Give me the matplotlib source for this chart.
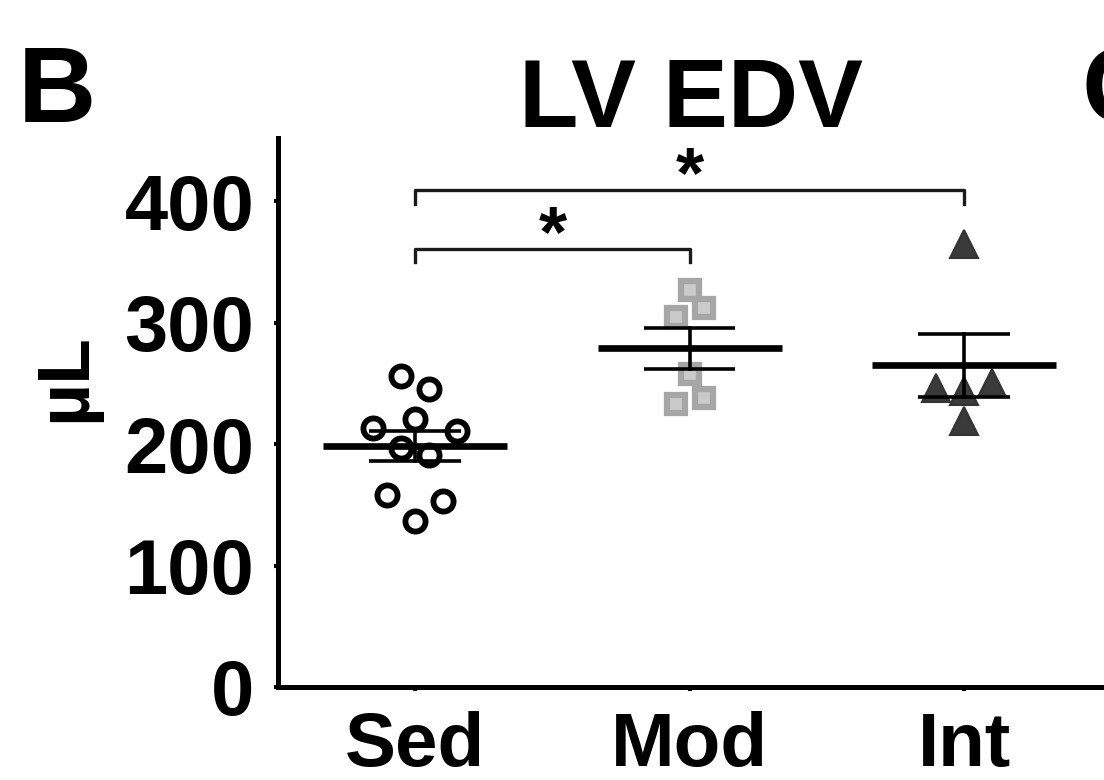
import numpy as np
import matplotlib
matplotlib.use("Agg")
import matplotlib.pyplot as plt

plt.rcParams["font.family"] = ["Liberation Sans", "DejaVu Sans"]
plt.rcParams["font.weight"] = "bold"

# ── Data (LV end-diastolic volume, uL) ─────────────────────────────────────
GROUPS = ["Sed", "Mod", "Int"]
SED = [256, 245, 221, 213, 211, 197, 191, 158, 153, 137]
MOD = [327, 305, 312, 258, 233, 238]
INT = [365, 246, 244, 250, 219]
Y_TICKS = [0, 100, 200, 300, 400]

# significance brackets: (group a, group b, bracket height, label)
SIG = [(0, 2, 409, "*"), (0, 1, 361, "*")]

# ── Styling ───────────────────────────────────────────────────────────────
STYLES = [
    dict(marker="o", ms=14.5, mfc="white", mec="black", mew=4.2),
    dict(marker="s", ms=13.5, mfc="#cacaca", mec="#a6a6a6", mew=4.5),
    dict(marker="^", ms=20, mfc="#3a3a3a", mec="#333333", mew=1.5),
]


def swarm_offsets(ax, vals, step_px=14, min_px=25, bin_w=20):
    """Prism-like spread: bin values, spread each bin symmetrically,
    widen a bin while it collides with points already placed below."""
    p0 = ax.transData.transform((0, 0))
    p1 = ax.transData.transform((1, 1))
    sx, sy = p1 - p0
    vals = np.asarray(vals, float)
    slots = np.zeros(len(vals))
    bins = np.floor(vals / bin_w).astype(int)
    placed = []
    for b in sorted(set(bins)):
        idx = np.where(bins == b)[0]
        n = len(idx)
        base = (np.arange(n) - (n - 1) / 2) * 2
        extra = 0
        while True:
            cand = base + np.sign(base) * extra
            ok = all(
                np.hypot(c * step_px - px, vals[i] * sy - py) >= min_px
                for c, i in zip(cand, idx) for px, py in placed
            )
            if ok or n == 1 or extra > 6:
                break
            extra += 1
        for c, i in zip(cand, idx):
            slots[i] = c
            placed.append((c * step_px, vals[i] * sy))
    return slots * step_px / sx


fig = plt.figure(figsize=(11.04, 7.8), dpi=100)
ax = fig.add_axes([278 / 1104, 1 - 687 / 780, 1 - 278 / 1104, 549 / 780])
ax.set_xlim(-0.5, 2.51)
ax.set_ylim(0, 452)

for i, (vals, st) in enumerate(zip([SED, MOD, INT], STYLES)):
    offs = swarm_offsets(ax, vals)
    ax.plot(i + offs, vals, ls="none", zorder=2, clip_on=False, **st)
    m = np.mean(vals)
    sem = np.std(vals, ddof=1) / np.sqrt(len(vals))
    ax.plot([i - 0.335, i + 0.335], [m, m], color="black", lw=4.8,
            solid_capstyle="butt", zorder=4)
    ax.plot([i, i], [m - sem, m + sem], color="black", lw=2.6, zorder=3)
    for yv in (m - sem, m + sem):
        ax.plot([i - 0.167, i + 0.167], [yv, yv], color="black", lw=2.6,
                solid_capstyle="butt", zorder=3)

for a, b, h, lab in SIG:
    ax.plot([a, a, b, b], [h - 11, h, h, h - 11], color="#1a1a1a", lw=2.4,
            zorder=3)
    ax.annotate(lab, xy=((a + b) / 2, h), xytext=(0, -16),
                textcoords="offset points", ha="center", va="bottom",
                fontsize=52, fontweight="bold")

ax.spines["top"].set_visible(False)
ax.spines["right"].set_visible(False)
for s in ("left", "bottom"):
    ax.spines[s].set_linewidth(3.6)
ax.set_yticks(Y_TICKS)
ax.set_xticks(range(len(GROUPS)))
ax.set_xticklabels(GROUPS)
ax.tick_params(axis="y", length=3, width=3, pad=14, labelsize=56)
ax.tick_params(axis="x", length=3, width=3, pad=14, labelsize=55)
ax.set_ylabel("µL", fontsize=54, fontweight="bold")
ax.yaxis.set_label_coords(-0.215, 0.563)

fig.text(691 / 1104, 1 - 127 / 780, "LV EDV", ha="center", va="baseline",
         fontsize=70, fontweight="bold")
fig.text(18 / 1104, 1 - 122 / 780, "B", ha="left", va="baseline",
         fontsize=78, fontweight="bold")
fig.text(1082 / 1104, 1 - 122 / 780, "C", ha="left", va="baseline",
         fontsize=78, fontweight="bold")

fig.savefig("out.png", dpi=100, facecolor="white")
